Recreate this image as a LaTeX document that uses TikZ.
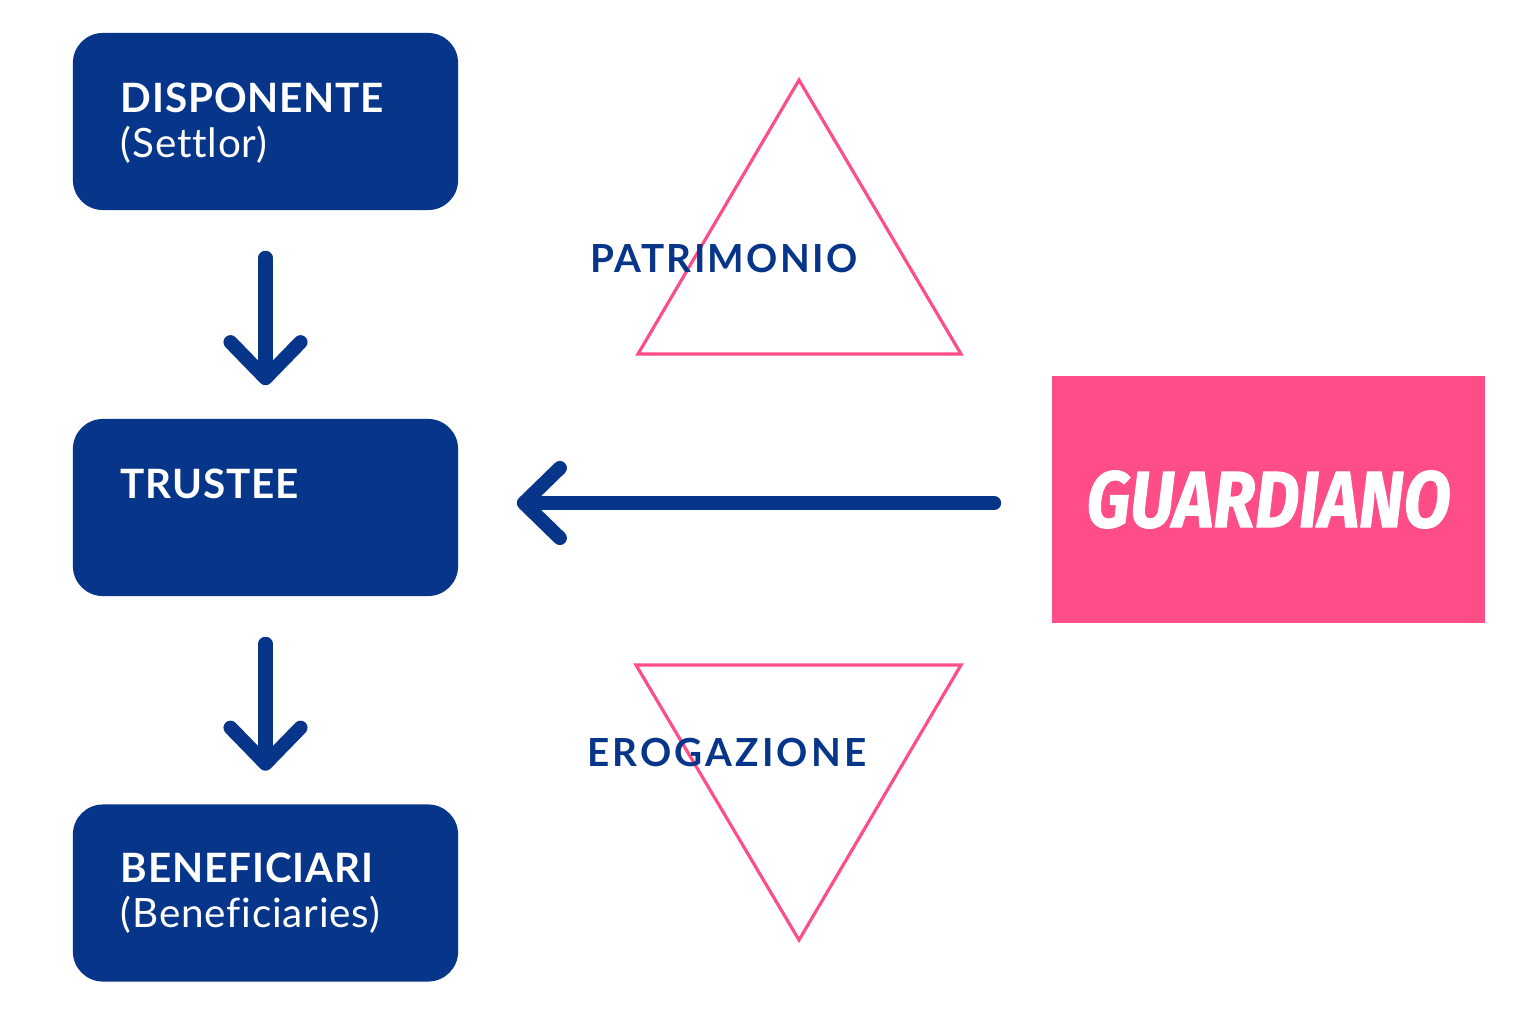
\documentclass[tikz,border=0pt]{standalone}
\usepackage{fontspec}
\usetikzlibrary{positioning,arrows.meta}
\definecolor{trustblue}{HTML}{06358A}
\definecolor{guardpink}{HTML}{FF4D88}
\newfontfamily\boxfont[LetterSpace=2,Ligatures=NoCommon]{Lato}
\newfontfamily\flowfont[LetterSpace=6,Ligatures=NoCommon]{Lato}
\newfontfamily\guardfont[FakeStretch=0.86,FakeBold=1.2]{Fira Sans}
\begin{document}
\begin{tikzpicture}[x=0.01cm, y=-0.01cm,
    box/.style={fill=trustblue, rounded corners=0.3cm,
      minimum width=3.85cm, minimum height=1.77cm},
    boxtext/.style={text=white, inner sep=0pt, align=left,
      font=\boxfont\fontsize{11.5}{12.8}\selectfont},
    flow/.style={draw=trustblue, line width=4pt, line cap=round,
      -{Straight Barb[length=0.36cm, width=0.7cm, round]}},
    triangle/.style={draw=guardpink, line width=0.9pt},
    flowtext/.style={text=trustblue, inner sep=0pt,
      font=\flowfont\bfseries\fontsize{11}{13}\selectfont}]
  \useasboundingbox (0,0) rectangle (1536,1024);
  \fill[white] (0,0) rectangle (1536,1024);
  % left column
  \draw
    (265.5,121.5) node[box] (disponente){}
    (265.5,507.5) node[box] (trustee){}
    (265.5,893.0) node[box] (beneficiari){};
  \node[boxtext, below right=0.5cm and 0.48cm of disponente.north west]
    (disponentetext){\bfseries DISPONENTE\\(Settlor)};
  \node[boxtext, below right=0.5cm and 0.48cm of trustee.north west]
    (trusteetext){\bfseries TRUSTEE};
  \node[boxtext, below right=0.48cm and 0.48cm of beneficiari.north west]
    (beneficiaritext){\bfseries BENEFICIARI\\(Beneficiaries)};
  % guardian
  \node[fill=guardpink, minimum width=4.33cm, minimum height=2.47cm]
    (guardiano) at (1268.5,499.5)
    {\guardfont\bfseries\itshape\fontsize{22.7}{24}\selectfont\color{white}GUARDIANO};
  % triangles
  \draw[triangle] (799,80) -- (961,354) -- (638,354) -- cycle;
  \draw[triangle] (636,665) -- (961,665) -- (799,940) -- cycle;
  \node[flowtext] (patrimonio) at (724,259) {PATRIMONIO};
  \node[flowtext] (erogazione) at (727,753)
    {\addfontfeature{LetterSpace=8}EROGAZIONE};
  % arrows
  \begin{scope}[flow]
    \draw[shorten <=0.47cm, shorten >=0.33cm] (disponente) to (trustee);
    \draw[shorten <=0.47cm, shorten >=0.33cm] (trustee) to (beneficiari);
    \draw[shorten <=0.57cm, shorten >=0.58cm]
      ([yshift=0.045cm]trustee.east -| guardiano.west)
      to ([yshift=0.045cm]trustee.east);
  \end{scope}
\end{tikzpicture}
\end{document}
